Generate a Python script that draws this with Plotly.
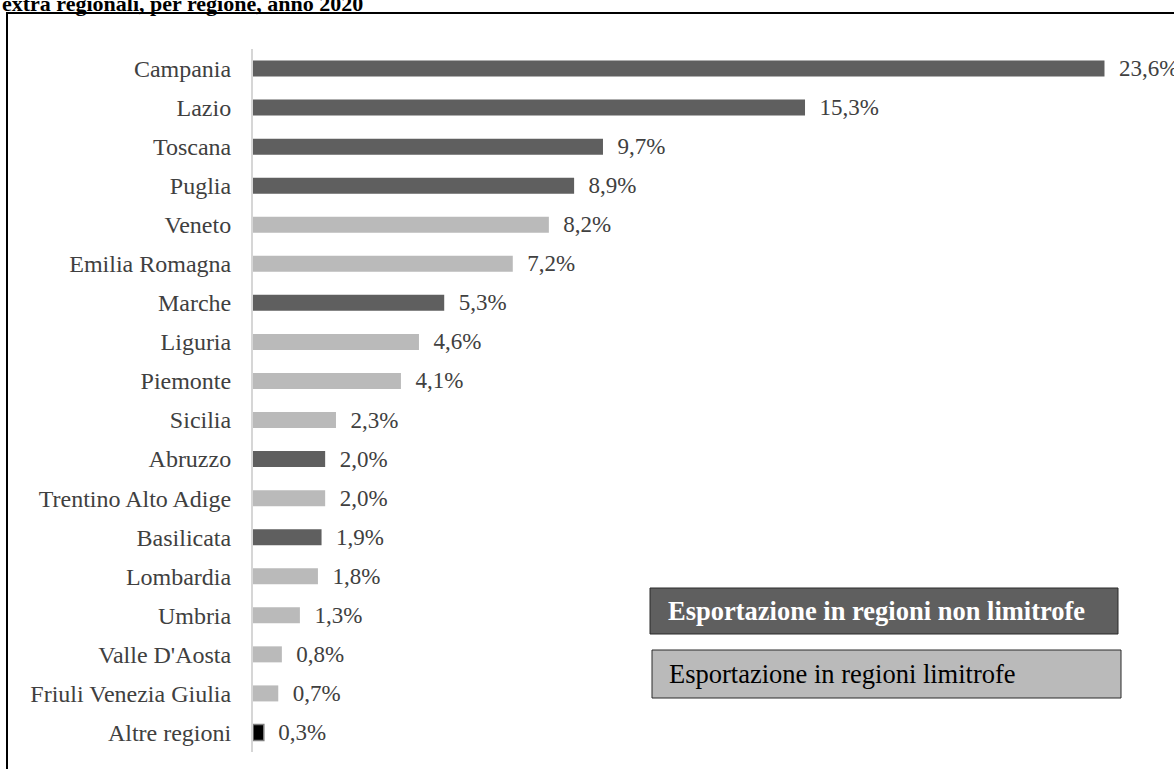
import plotly.graph_objects as go

# ---- data ----
regions = ["Campania", "Lazio", "Toscana", "Puglia", "Veneto", "Emilia Romagna",
           "Marche", "Liguria", "Piemonte", "Sicilia", "Abruzzo",
           "Trentino Alto Adige", "Basilicata", "Lombardia", "Umbria",
           "Valle D'Aosta", "Friuli Venezia Giulia", "Altre regioni"]
shares = [23.6, 15.3, 9.7, 8.9, 8.2, 7.2, 5.3, 4.6, 4.1, 2.3, 2.0, 2.0, 1.9,
          1.8, 1.3, 0.8, 0.7, 0.3]
groups = ["non", "non", "non", "non", "lim", "lim", "non", "lim", "lim", "lim",
          "non", "lim", "non", "lim", "lim", "lim", "lim", "altre"]
legend_labels = ["Esportazione in regioni non limitrofe",
                 "Esportazione in regioni limitrofe"]
title_text = "extra regionali, per regione, anno 2020"

# ---- styles ----
DARK = "#5f5f5f"
LIGHT = "#bababa"
color_map = {"non": DARK, "lim": LIGHT, "altre": "#000000"}
line_color_map = {"non": DARK, "lim": LIGHT, "altre": "#7f7f7f"}
line_width_map = {"non": 0, "lim": 0, "altre": 1.5}
FONT = "Liberation Serif, Times New Roman, serif"

W, H = 1174, 769
ML, MR, MT, MB = 253, 19, 49, 17
PW, PH = W - ML - MR, H - MT - MB


def px(x):
    return (x - ML) / PW


def py(y):
    return (H - MB - y) / PH


labels = ["\u00a0\u00a0" + f"{v:.1f}".replace(".", ",") + "%" for v in shares]

fig = go.Figure(go.Bar(
    x=shares, y=regions, orientation="h",
    marker=dict(color=[color_map[g] for g in groups],
                line=dict(color=[line_color_map[g] for g in groups],
                          width=[line_width_map[g] for g in groups])),
    text=labels, textposition="outside", constraintext="none",
    textfont=dict(family=FONT, size=23, color="#404040"),
    cliponaxis=False, hoverinfo="skip",
))

fig.update_layout(
    width=W, height=H,
    margin=dict(l=ML, r=MR, t=MT, b=MB),
    paper_bgcolor="white", plot_bgcolor="white",
    showlegend=False, bargap=0.59,
    xaxis=dict(range=[0, 25], showticklabels=False, showgrid=False,
               zeroline=False, showline=False, fixedrange=True),
    yaxis=dict(autorange="reversed", showgrid=False, zeroline=False,
               showline=True, linecolor="#d6d6d6", linewidth=2,
               ticks="", ticklabelstandoff=15, fixedrange=True,
               tickfont=dict(family=FONT, size=24, color="#404040")),
)

shapes = [
    # outer frame
    dict(type="rect", xref="paper", yref="paper",
         x0=px(7), x1=px(W + 10), y0=py(H + 10), y1=py(13),
         line=dict(color="black", width=2), fillcolor="rgba(0,0,0,0)"),
    # legend boxes
    dict(type="rect", xref="paper", yref="paper",
         x0=px(650), x1=px(1118), y0=py(634), y1=py(588),
         line=dict(color="#2a2a2a", width=1), fillcolor=DARK),
    dict(type="rect", xref="paper", yref="paper",
         x0=px(652), x1=px(1121), y0=py(698), y1=py(650),
         line=dict(color="#2a2a2a", width=1), fillcolor=LIGHT),
]
fig.update_layout(shapes=shapes)

fig.add_annotation(xref="paper", yref="paper", x=px(0), y=py(18),
                   xanchor="left", yanchor="bottom", showarrow=False,
                   text="<b>" + title_text + "</b>",
                   font=dict(family=FONT, size=22, color="black"))
fig.add_annotation(xref="paper", yref="paper", x=px(666), y=py(611),
                   xanchor="left", yanchor="middle", showarrow=False,
                   text="<b>" + legend_labels[0] + "</b>",
                   font=dict(family=FONT, size=26.5, color="white"))
fig.add_annotation(xref="paper", yref="paper", x=px(667), y=py(674),
                   xanchor="left", yanchor="middle", showarrow=False,
                   text=legend_labels[1],
                   font=dict(family=FONT, size=26.5, color="black"))

fig.write_html("out.html",
               config={"displayModeBar": False},
               post_script="document.body.style.margin='0';"
                           "document.body.style.overflow='hidden';")
